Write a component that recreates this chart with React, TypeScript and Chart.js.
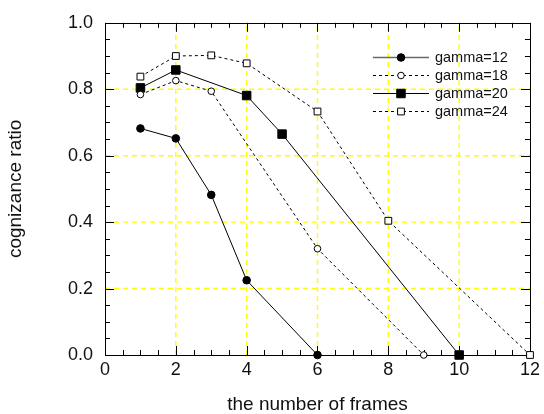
import React, { useEffect, useRef } from "react";
import { Chart, registerables } from "chart.js";

Chart.register(...registerables);

const seriesLabels = ["gamma=12", "gamma=18", "gamma=20", "gamma=24"];
const framesG12 = [1, 2, 3, 4, 6];
const ratioG12 = [0.682, 0.652, 0.482, 0.225, 0];
const framesG18 = [1, 2, 3, 6, 9];
const ratioG18 = [0.784, 0.826, 0.794, 0.32, 0];
const framesG20 = [1, 2, 4, 5, 10];
const ratioG20 = [0.804, 0.858, 0.781, 0.665, 0];
const framesG24 = [1, 2, 3, 4, 6, 8, 12];
const ratioG24 = [0.838, 0.9, 0.902, 0.878, 0.733, 0.404, 0];

const xTicks = [0, 2, 4, 6, 8, 10, 12];
const yTicks = [0, 0.2, 0.4, 0.6, 0.8, 1.0];
const xMinorStep = 0.5;
const yMinorStep = 0.05;

const FONT = "'Liberation Sans', Arial, sans-serif";

const zip = (xs: number[], ys: number[]) => xs.map((x, i) => ({ x, y: ys[i] }));

const framePlugin = {
  id: "frameTicks",
  beforeDatasetsDraw(chart: any) {
    const { ctx, chartArea } = chart;
    const { left, right, top, bottom } = chartArea;
    const xs = chart.scales.x;
    const ys = chart.scales.y;
    ctx.save();
    // yellow dashed grid
    ctx.strokeStyle = "#ffff00";
    ctx.lineWidth = 1.4;
    ctx.setLineDash([5, 4]);
    xTicks.forEach((v) => {
      if (v === xTicks[0] || v === xTicks[xTicks.length - 1]) return;
      const px = xs.getPixelForValue(v);
      ctx.beginPath();
      ctx.moveTo(px, bottom);
      ctx.lineTo(px, top);
      ctx.stroke();
    });
    yTicks.forEach((v) => {
      if (v === yTicks[0] || v === yTicks[yTicks.length - 1]) return;
      const py = ys.getPixelForValue(v);
      ctx.beginPath();
      ctx.moveTo(left, py);
      ctx.lineTo(right, py);
      ctx.stroke();
    });
    ctx.setLineDash([]);
    // ticks
    ctx.strokeStyle = "#000";
    ctx.lineWidth = 1;
    const major = 9;
    const minor = 5;
    const nx = Math.round((xs.max - xs.min) / xMinorStep);
    for (let i = 0; i <= nx; i++) {
      const v = xs.min + i * xMinorStep;
      const isMajor = xTicks.some((t) => Math.abs(t - v) < 1e-6);
      const len = isMajor ? major : minor;
      const px = Math.round(xs.getPixelForValue(v)) + 0.5;
      ctx.beginPath();
      ctx.moveTo(px, bottom);
      ctx.lineTo(px, bottom - len);
      ctx.moveTo(px, top);
      ctx.lineTo(px, top + len);
      ctx.stroke();
    }
    const ny = Math.round((ys.max - ys.min) / yMinorStep);
    for (let i = 0; i <= ny; i++) {
      const v = ys.min + i * yMinorStep;
      const isMajor = yTicks.some((t) => Math.abs(t - v) < 1e-6);
      const len = isMajor ? major : minor;
      const py = Math.round(ys.getPixelForValue(v)) + 0.5;
      ctx.beginPath();
      ctx.moveTo(left, py);
      ctx.lineTo(left + len, py);
      ctx.moveTo(right, py);
      ctx.lineTo(right - len, py);
      ctx.stroke();
    }
    // frame
    ctx.strokeStyle = "#000";
    ctx.lineWidth = 1;
    ctx.strokeRect(Math.round(left) + 0.5, Math.round(top) + 0.5, Math.round(right - left), Math.round(bottom - top));
    ctx.restore();
  },
};

function drawMarker(ctx: CanvasRenderingContext2D, style: string, r: number, filled: boolean, x: number, y: number) {
  ctx.beginPath();
  if (style === "circle") {
    ctx.arc(x, y, r, 0, Math.PI * 2);
  } else {
    const s = Math.SQRT1_2 * r;
    ctx.rect(x - s, y - s, 2 * s, 2 * s);
  }
  ctx.fillStyle = filled ? "#000" : "#fff";
  ctx.fill();
  ctx.strokeStyle = "#000";
  ctx.lineWidth = 1;
  ctx.stroke();
}

const legendPlugin = {
  id: "innerLegend",
  afterDatasetsDraw(chart: any) {
    const { ctx, chartArea } = chart;
    const x0 = chartArea.right - 157;
    const x1 = chartArea.right - 101;
    const xm = (x0 + x1) / 2;
    const xt = chartArea.right - 95;
    const y0 = chartArea.top + 34.5;
    const dy = 17.8;
    ctx.save();
    chart.data.datasets.forEach((ds: any, i: number) => {
      const y = Math.round(y0 + i * dy) + 0.5;
      ctx.setLineDash(ds.borderDash || []);
      ctx.strokeStyle = i === 0 ? "#6a6a6a" : "#000";
      ctx.lineWidth = i === 0 ? 1.5 : 1;
      ctx.beginPath();
      ctx.moveTo(x0, y);
      ctx.lineTo(x1, y);
      ctx.stroke();
      ctx.setLineDash([]);
      const filled = ds.pointBackgroundColor === "#000";
      drawMarker(ctx, ds.pointStyle, ds.pointRadius, filled, xm, y);
      ctx.fillStyle = "#111";
      ctx.font = `14.5px ${FONT}`;
      ctx.textAlign = "left";
      ctx.textBaseline = "middle";
      ctx.fillText(ds.label, xt, y);
    });
    ctx.restore();
  },
};

export default function App() {
  const ref = useRef<HTMLCanvasElement | null>(null);
  useEffect(() => {
    if (!ref.current) return;
    const mk = (label: string, xs: number[], ys: number[], style: string, r: number, filled: boolean, dashed: boolean) => ({
      label,
      data: zip(xs, ys),
      borderColor: "#000",
      borderWidth: 1,
      borderDash: dashed ? [3, 3] : [],
      pointStyle: style,
      pointRadius: r,
      pointHoverRadius: r,
      pointBorderWidth: 1,
      pointBorderColor: "#000",
      pointBackgroundColor: filled ? "#000" : "#fff",
      showLine: true,
      fill: false,
      tension: 0,
      clip: false,
    });
    const chart = new Chart(ref.current, {
      type: "scatter",
      data: {
        datasets: [
          mk(seriesLabels[0], framesG12, ratioG12, "circle", 3.8, true, false),
          mk(seriesLabels[1], framesG18, ratioG18, "circle", 3.3, false, true),
          mk(seriesLabels[2], framesG20, ratioG20, "rect", 6, true, false),
          mk(seriesLabels[3], framesG24, ratioG24, "rect", 4.8, false, true),
        ] as any,
      },
      options: {
        animation: false,
        responsive: false,
        devicePixelRatio: 1,
        layout: { padding: { left: 0, right: 11, top: 19, bottom: 0 } },
        plugins: { legend: { display: false }, tooltip: { enabled: false } },
        scales: {
          x: {
            type: "linear",
            min: 0,
            max: 12,
            grid: { display: false, drawTicks: false },
            border: { display: false },
            ticks: {
              stepSize: 2,
              padding: 4,
              color: "#111",
              font: { family: FONT, size: 18 },
              maxRotation: 0,
            },
            title: {
              display: true,
              text: "the number of frames",
              color: "#111",
              font: { family: FONT, size: 19, lineHeight: 1 },
              padding: { top: 0, bottom: 0 },
            },
            afterFit: (s: any) => {
              s.height = 59;
            },
          },
          y: {
            type: "linear",
            min: 0,
            max: 1,
            grid: { display: false, drawTicks: false },
            border: { display: false },
            ticks: {
              stepSize: 0.2,
              padding: 12,
              color: "#111",
              font: { family: FONT, size: 18 },
              callback: (v: any) => Number(v).toFixed(1),
            },
            title: {
              display: true,
              text: "cognizance ratio",
              color: "#111",
              font: { family: FONT, size: 19, lineHeight: 1 },
              padding: { top: 6.5, bottom: 0 },
            },
            afterFit: (s: any) => {
              s.width = 105;
            },
          },
        },
      } as any,
      plugins: [framePlugin, legendPlugin],
    });
    return () => chart.destroy();
  }, []);
  return (
    <div style={{ position: "absolute", left: 0, top: 0, width: 544, height: 414, background: "#fff" }}>
      <canvas ref={ref} width={544} height={414} style={{ display: "block" }} />
    </div>
  );
}
